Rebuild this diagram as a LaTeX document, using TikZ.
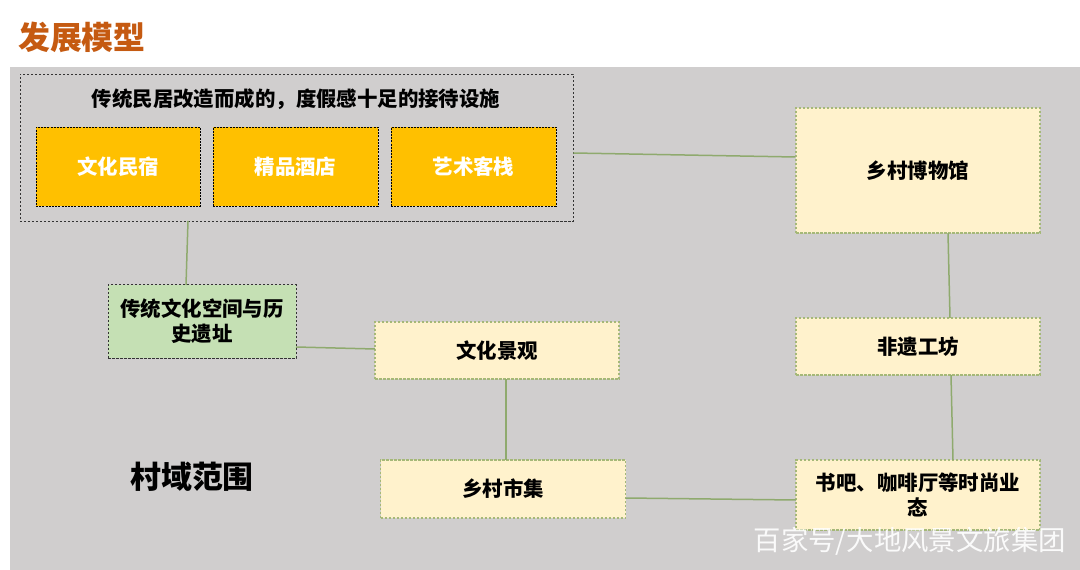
\documentclass[tikz,border=0pt]{standalone}
\usepackage{fontspec}
\newfontfamily\cjk{Noto Sans CJK SC}
\definecolor{bggrey}{HTML}{D0CECE}
\definecolor{titlec}{HTML}{C55A11}
\definecolor{gold}{HTML}{FFC000}
\definecolor{cream}{HTML}{FFF2CC}
\definecolor{paleg}{HTML}{C5E0B4}
\definecolor{lineg}{HTML}{8FAA6E}
\definecolor{boxg}{HTML}{A5B878}
\tikzset{
  base/.style={inner sep=0pt, align=center, font=\cjk\bfseries\fontsize{20.5}{25}\selectfont},
  goldbox/.style={base, fill=gold, draw=black, dash pattern=on 2bp off 1.2bp, line width=0.9bp, text=white},
  creambox/.style={base, fill=cream, draw=boxg, dash pattern=on 2.5bp off 1.5bp, line width=1.1bp},
  greenbox/.style={base, fill=paleg, draw=black!80, dash pattern=on 2.5bp off 1.5bp, line width=1bp},
  frame/.style={draw=black!80, dash pattern=on 2.5bp off 1.5bp, line width=0.9bp, inner sep=0pt},
  conn/.style={draw=lineg, line width=1.5bp}
}
\begin{document}
\begin{tikzpicture}[x=1bp,y=-1bp]
\useasboundingbox (0,0) rectangle (1080,570);
\fill[white] (0,0) rectangle (1080,570);
\fill[bggrey] (10,67) rectangle (1080,570);
\node[anchor=west, text=titlec, font=\cjk\bfseries\fontsize{32}{36}\selectfont, inner sep=0pt] (title) at (18,37) {发展模型};
% outer frame
\node[frame, minimum width=553bp, minimum height=147bp] (outer) at (296.5,147.5) {};
\node[base] (outertitle) at (296,99) {传统民居改造而成的，度假感十足的接待设施};
\node[goldbox, minimum width=164bp, minimum height=79bp] (w1) at (118,166.5) {文化民宿};
\node[goldbox, minimum width=165bp, minimum height=79bp] (w2) at (295.5,166.5) {精品酒店};
\node[goldbox, minimum width=165bp, minimum height=79bp] (w3) at (473.5,166.5) {艺术客栈};
% right column
\node[creambox, minimum width=244bp, minimum height=125bp] (museum) at (918,170.5) {乡村博物馆};
\node[creambox, minimum width=244bp, minimum height=57bp] (feiyi) at (918,346.5) {非遗工坊};
\node[creambox, minimum width=244bp, minimum height=70bp] (shuba) at (918,495) {书吧、咖啡厅等时尚业\\态};
% middle
\node[creambox, minimum width=244bp, minimum height=57bp] (jingguan) at (497,350.5) {文化景观};
\node[creambox, minimum width=245bp, minimum height=58bp] (shiji) at (503,489) {乡村市集};
\node[greenbox, minimum width=188bp, minimum height=73bp] (heritage) at (202,321.5) {传统文化空间与历\\史遗址};
\node[base, font=\cjk\bfseries\fontsize{31}{34}\selectfont] (scope) at (192,477) {村域范围};
% connectors
\coordinate (o1) at (outer.east |- 0,153);
\coordinate (m1) at (museum.west |- 0,157);
\draw[conn] (o1) -- (m1);
\coordinate (o2) at (188,221);
\coordinate (h2) at (186,285);
\draw[conn] (o2) -- (h2);
\coordinate (h3) at (296,347);
\coordinate (j3) at (375,349);
\draw[conn] (h3) -- (j3);
\coordinate (j4) at (506,379);
\coordinate (s4) at (506,460);
\draw[conn] (j4) -- (s4);
\coordinate (m5) at (948,233);
\coordinate (f5) at (950,318);
\draw[conn] (m5) -- (f5);
\coordinate (f6) at (951,375);
\coordinate (b6) at (953,460);
\draw[conn] (f6) -- (b6);
\coordinate (s7) at (625.5,498);
\coordinate (b7) at (796,500);
\draw[conn] (s7) -- (b7);
% watermark
\node[anchor=east, text=white, opacity=0.9, font=\cjk\fontsize{27.5}{30}\selectfont, inner sep=0pt] (wm) at (1066,541) {百家号/大地风景文旅集团};
\end{tikzpicture}
\end{document}
